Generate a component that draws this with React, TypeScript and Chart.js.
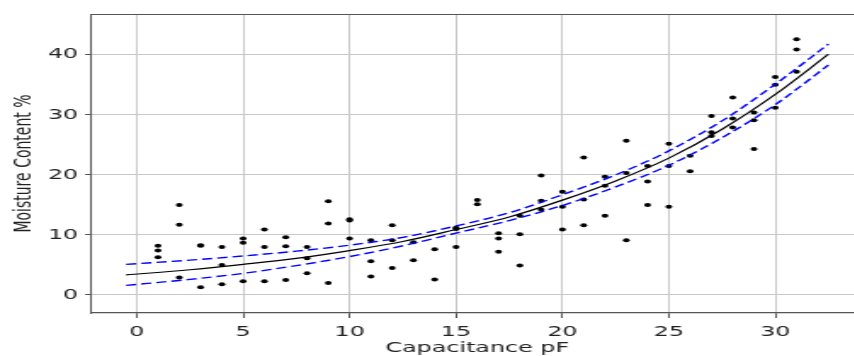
import React, { useEffect, useRef } from 'react';
import { Chart, registerables } from 'chart.js';

Chart.register(...registerables);

// ---- data ----
const X_TICKS = [0, 5, 10, 15, 20, 25, 30];
const Y_TICKS = [0, 10, 20, 30, 40];

const CAPACITANCE = [
  1, 1, 1, 2, 2, 2, 3, 3, 3, 4, 4, 4, 5, 5, 5, 6, 6, 6, 7, 7, 7, 8, 8, 8, 9, 9, 9,
  10, 10, 10, 11, 11, 11, 12, 12, 12, 13, 13, 14, 14, 15, 15, 15, 16, 16,
  17, 17, 17, 18, 18, 18, 19, 19, 19, 20, 20, 20, 21, 21, 21, 22, 22, 22,
  23, 23, 23, 24, 24, 24, 25, 25, 25, 26, 26, 27, 27, 27, 28, 28, 28,
  29, 29, 29, 30, 30, 30, 31, 31, 31,
];
const MOISTURE = [
  8.2, 7.4, 6.3, 15.0, 11.7, 2.9, 8.2, 8.3, 1.3, 8.0, 5.0, 1.8, 9.4, 8.7, 2.3,
  10.9, 8.0, 2.3, 9.6, 8.1, 2.5, 8.0, 6.1, 3.6, 15.6, 11.9, 2.0,
  12.6, 12.4, 9.4, 9.1, 5.6, 3.1, 11.6, 9.1, 4.5, 8.8, 5.8, 7.6, 2.6, 11.2, 11.0, 8.0, 15.8, 15.1,
  10.3, 9.4, 7.2, 13.2, 10.1, 4.9, 19.9, 15.7, 14.2, 17.2, 14.7, 10.9, 22.9, 15.9, 11.6, 19.7, 18.2, 13.2,
  25.7, 20.3, 9.1, 21.5, 18.9, 15.0, 25.2, 21.5, 14.7, 23.2, 20.6, 29.8, 27.1, 26.5, 32.9, 29.4, 27.9,
  30.4, 29.1, 24.3, 36.3, 35.0, 31.2, 42.6, 40.9, 37.2,
];

const FIT_X = [-0.5, 2.5, 5, 7.5, 10, 12.5, 15, 17.5, 20, 22.5, 25, 27.5, 30, 32.5];
const FIT_Y = [3.35, 4.2, 5.1, 6.1, 7.4, 8.9, 10.9, 13.0, 15.8, 19.0, 22.8, 27.6, 33.4, 40.1];
const UPPER_Y = [5.1, 5.8, 6.5, 7.3, 8.3, 9.6, 11.5, 13.7, 16.7, 20.0, 24.0, 29.0, 35.1, 41.8];
const LOWER_Y = [1.6, 2.6, 3.6, 4.9, 6.4, 8.2, 10.3, 12.4, 14.9, 18.0, 21.6, 26.2, 31.7, 38.3];

const X_MIN = -2.15;
const X_MAX = 34.15;
const Y_MIN = -3.0;
const Y_MAX = 46.8;

// ---- layout ----
const STRETCH = 1.7;
const INNER_W = 512;
const H = 356;
const FONT = { family: 'DejaVu Sans', size: 14, lineHeight: 1.2 };
const TEXT = '#222222';
const FRAME = '#555555';
const GRID = '#c8c8c8';

const topBorder = {
  id: 'topBorder',
  afterDraw(chart: any) {
    const { ctx, chartArea } = chart;
    ctx.save();
    ctx.strokeStyle = FRAME;
    ctx.lineWidth = 1;
    ctx.beginPath();
    ctx.moveTo(chartArea.left, chartArea.top + 0.5);
    ctx.lineTo(chartArea.right, chartArea.top + 0.5);
    ctx.stroke();
    ctx.restore();
  },
};

export default function App() {
  const ref = useRef<HTMLCanvasElement | null>(null);

  useEffect(() => {
    document.body.style.margin = '0';
    const canvas = ref.current;
    if (!canvas) return;
    const pts = CAPACITANCE.map((x, i) => ({ x, y: MOISTURE[i] }));
    const line = (ys: number[]) => FIT_X.map((x, i) => ({ x, y: ys[i] }));

    const chart = new Chart(canvas, {
      type: 'scatter',
      data: {
        datasets: [
          {
            data: line(FIT_Y),
            showLine: true,
            borderColor: '#000000',
            borderWidth: 1.2,
            pointRadius: 0,
            cubicInterpolationMode: 'monotone',
          } as any,
          {
            data: line(UPPER_Y),
            showLine: true,
            borderColor: '#0000ff',
            borderWidth: 1.4,
            borderDash: [6, 3],
            pointRadius: 0,
            cubicInterpolationMode: 'monotone',
          } as any,
          {
            data: line(LOWER_Y),
            showLine: true,
            borderColor: '#0000ff',
            borderWidth: 1.4,
            borderDash: [6, 3],
            pointRadius: 0,
            cubicInterpolationMode: 'monotone',
          } as any,
          {
            data: pts,
            pointRadius: 2,
            pointBorderWidth: 0,
            pointBackgroundColor: '#000000',
            borderColor: '#000000',
            showLine: false,
          } as any,
        ],
      },
      options: {
        animation: false,
        responsive: true,
        maintainAspectRatio: false,
        events: [],
        layout: { padding: { top: 14, right: 3, bottom: 0, left: 0 } },
        plugins: { legend: { display: false }, tooltip: { enabled: false } },
        scales: {
          x: {
            type: 'linear',
            min: X_MIN,
            max: X_MAX,
            afterBuildTicks: (s: any) => {
              s.ticks = X_TICKS.map((v) => ({ value: v }));
            },
            afterFit: (s: any) => {
              s.height = 43;
            },
            ticks: { font: FONT, color: TEXT, padding: 6, autoSkip: false, maxRotation: 0 },
            grid: { color: GRID, lineWidth: 1, tickColor: FRAME, tickLength: 5, drawTicks: true },
            border: { display: true, color: FRAME, width: 1.2 },
            title: {
              display: true,
              text: 'Capacitance pF',
              font: FONT,
              color: TEXT,
              padding: { top: 0, bottom: -1 },
            },
          },
          y: {
            type: 'linear',
            min: Y_MIN,
            max: Y_MAX,
            afterBuildTicks: (s: any) => {
              s.ticks = Y_TICKS.map((v) => ({ value: v }));
            },
            afterFit: (s: any) => {
              s.width = 53.5;
            },
            ticks: { font: FONT, color: TEXT, padding: 4 },
            grid: { color: GRID, lineWidth: 1, tickColor: FRAME, tickLength: 3.5, drawTicks: true },
            border: { display: true, color: FRAME, width: 1 },
            title: {
              display: true,
              text: 'Moisture Content %',
              font: FONT,
              color: TEXT,
              padding: { top: 6.3, bottom: 0 },
            },
          },
        },
      } as any,
      plugins: [topBorder],
    });
    return () => chart.destroy();
  }, []);

  return (
    <div
      style={{
        position: 'absolute',
        left: 0,
        top: 0,
        width: 854,
        height: H,
        overflow: 'hidden',
        background: '#ffffff',
      }}
    >
      <div
        style={{
          width: INNER_W,
          height: H,
          transform: `scaleX(${STRETCH})`,
          transformOrigin: '0 0',
        }}
      >
        <canvas ref={ref} />
      </div>
    </div>
  );
}
